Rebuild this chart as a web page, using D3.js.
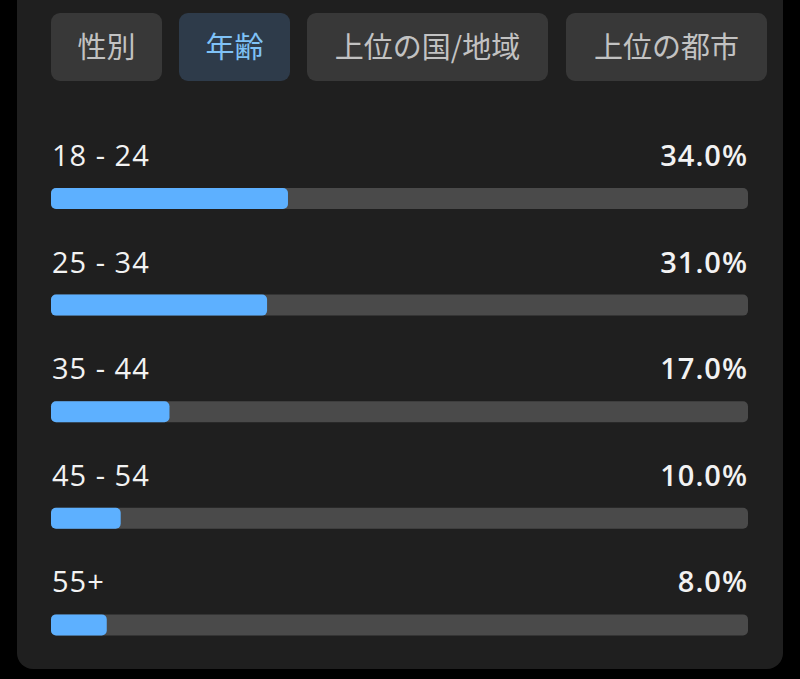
<!DOCTYPE html>
<html>
<head>
<meta charset="utf-8">
<script src="https://cdn.jsdelivr.net/npm/d3@7"></script>
<style>
  html, body { margin: 0; padding: 0; background: #000; }
  svg { display: block; }
  text { font-family: "Noto Sans CJK JP", "Noto Sans", sans-serif; }
  .num { font-family: "Open Sans", "Noto Sans", sans-serif; letter-spacing: 1px; }
</style>
</head>
<body>
<div id="chart"></div>
<script>
var width = 800,
    height = 679;

// tabs along the top
var tabs = ["性別", "年齢", "上位の国/地域", "上位の都市"];
var activeTab = "年齢";

// age groups and their share
var ageGroups = ["18 - 24", "25 - 34", "35 - 44", "45 - 54", "55+"];
var shares = [34.0, 31.0, 17.0, 10.0, 8.0];

var svg = d3.select("#chart")
  .append("svg")
  .attr("width", width)
  .attr("height", height);

// panel
svg.append("rect")
  .attr("x", 17)
  .attr("y", -30)
  .attr("width", 766)
  .attr("height", 699)
  .attr("rx", 16)
  .attr("fill", "#1f1f1f");

// tab positions
var tabX = [51, 179, 307, 566],
    tabW = [111, 111, 241, 201];

var tabG = svg.selectAll("g.tab")
  .data(tabs)
  .enter()
  .append("g")
  .attr("class", "tab")
  .attr("transform", function(d, i) { return "translate(" + tabX[i] + ",13)"; });

tabG.append("rect")
  .attr("width", function(d, i) { return tabW[i]; })
  .attr("height", 68)
  .attr("rx", 9)
  .attr("fill", function(d) { return d == activeTab ? "#2e3b4a" : "#383838"; });

tabG.append("text")
  .attr("x", function(d, i) { return tabW[i] / 2; })
  .attr("y", 45)
  .attr("text-anchor", "middle")
  .attr("font-size", 29)
  .attr("fill", function(d) { return d == activeTab ? "#7fc2f7" : "#c2c2c2"; })
  .text(function(d) { return d; });

// bar scales
var xScale = d3.scaleLinear()
  .domain([0, 100])
  .range([51, 748]);

var yScale = d3.scaleBand()
  .domain(ageGroups)
  .range([135, 668])
  .paddingInner(0);

var barH = 21;

var rows = svg.selectAll("g.row")
  .data(ageGroups)
  .enter()
  .append("g")
  .attr("class", "row")
  .attr("transform", function(d) { return "translate(0," + yScale(d) + ")"; });

rows.append("text")
  .attr("class", "num")
  .attr("x", xScale(0) + 1)
  .attr("y", 31)
  .attr("font-size", 29)
  .attr("fill", "#f2f2f2")
  .text(function(d) { return d; });

rows.append("text")
  .attr("class", "num")
  .attr("x", xScale(100))
  .attr("y", 31)
  .attr("text-anchor", "end")
  .attr("font-size", 29)
  .attr("font-weight", 600)
  .attr("fill", "#f2f2f2")
  .text(function(d, i) { return shares[i].toFixed(1) + "%"; });

rows.append("rect")
  .attr("x", xScale(0))
  .attr("y", 53)
  .attr("width", xScale(100) - xScale(0))
  .attr("height", barH)
  .attr("rx", 5)
  .attr("fill", "#4a4a4a");

rows.append("rect")
  .attr("x", xScale(0))
  .attr("y", 53)
  .attr("width", function(d, i) { return xScale(shares[i]) - xScale(0); })
  .attr("height", barH)
  .attr("rx", 5)
  .attr("fill", "#5db0ff");
</script>
</body>
</html>
